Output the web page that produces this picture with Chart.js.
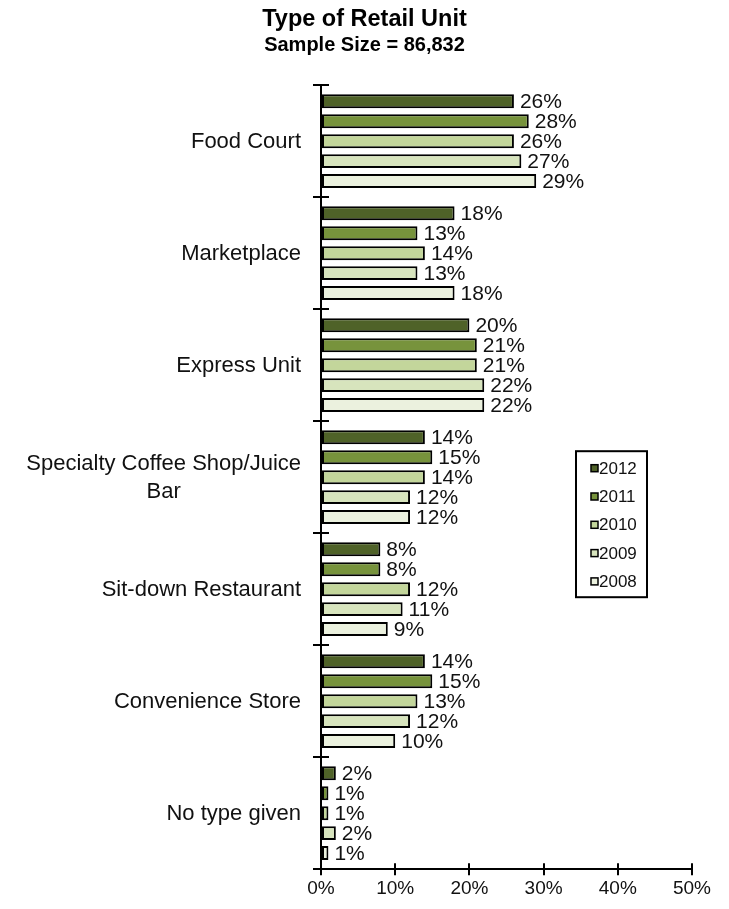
<!DOCTYPE html>
<html>
<head>
<meta charset="utf-8">
<title>Type of Retail Unit</title>
<script src="https://cdn.jsdelivr.net/npm/chart.js@4.4.1/dist/chart.umd.min.js"></script>
<style>
  html, body { margin: 0; padding: 0; background: #fff; }
  #wrap { width: 729px; height: 909px; }
</style>
</head>
<body>
<div id="wrap"><canvas id="retailChart"></canvas></div>
<script>
// Categories (the long one wraps onto two lines)
const categories = [
  'Food Court',
  'Marketplace',
  'Express Unit',
  ['Specialty Coffee Shop/Juice', 'Bar'],
  'Sit-down Restaurant',
  'Convenience Store',
  'No type given'
];

// Share of units per year, in percent
const years = ['2012', '2011', '2010', '2009', '2008'];
const values2012 = [26, 18, 20, 14, 8, 14, 2];
const values2011 = [28, 13, 21, 15, 8, 15, 1];
const values2010 = [26, 14, 21, 14, 12, 13, 1];
const values2009 = [27, 13, 22, 12, 11, 12, 2];
const values2008 = [29, 18, 22, 12, 9, 10, 1];
const xTicks = [0, 10, 20, 30, 40, 50];

const seriesValues = [values2012, values2011, values2010, values2009, values2008];
const seriesColors = ['#4f6228', '#77933c', '#c3d69b', '#d7e4bd', '#ebf1de'];

const FONT = '"Liberation Sans", Arial, Helvetica, sans-serif';

// Value labels, category labels, inner tick stubs and the boxed legend
const extrasPlugin = {
  id: 'extras',
  afterDatasetsDraw(chart) {
    const ctx = chart.ctx;
    const area = chart.chartArea;
    const xs = chart.scales.x;
    const ys = chart.scales.y;
    ctx.save();

    // value labels at the end of each bar
    ctx.font = '21px ' + FONT;
    ctx.fillStyle = '#111';
    ctx.textBaseline = 'middle';
    ctx.textAlign = 'left';
    chart.data.datasets.forEach((ds, i) => {
      chart.getDatasetMeta(i).data.forEach((bar, j) => {
        ctx.fillText(ds.data[j] + '%', bar.x + 6, bar.y + 1);
      });
    });

    // category labels, right aligned; wrapped lines centred on each other
    ctx.font = '22px ' + FONT;
    ctx.textAlign = 'center';
    const right = area.left - 20;
    const lineH = 28;
    chart.data.labels.forEach((lab, i) => {
      const lines = Array.isArray(lab) ? lab : [lab];
      const maxW = Math.max(...lines.map(l => ctx.measureText(l).width));
      const cy = ys.getPixelForValue(i);
      lines.forEach((l, k) => {
        ctx.fillText(l, right - maxW / 2, cy + (k - (lines.length - 1) / 2) * lineH + 1);
      });
    });

    // tick marks that cross the axis lines
    ctx.strokeStyle = '#000';
    ctx.lineWidth = 2;
    ctx.beginPath();
    for (let i = 0; i <= categories.length; i++) {
      const py = Math.round(ys.getPixelForValue(i - 0.5));
      ctx.moveTo(area.left, py);
      ctx.lineTo(area.left + 8, py);
    }
    xTicks.forEach(v => {
      const px = Math.round(xs.getPixelForValue(v));
      ctx.moveTo(px, area.bottom);
      ctx.lineTo(px, area.bottom - 6);
    });
    ctx.stroke();

    // legend box
    const lx = area.left + 255;
    const ly = area.top + 366;
    const lw = 71;
    const lh = 146;
    ctx.lineWidth = 2;
    ctx.strokeRect(lx, ly, lw, lh);
    ctx.font = '17px ' + FONT;
    ctx.textAlign = 'left';
    years.forEach((yr, i) => {
      const cy = ly + 17 + i * 28.3;
      ctx.fillStyle = seriesColors[i];
      ctx.fillRect(lx + 15, cy - 3.5, 7, 7);
      ctx.lineWidth = 1.5;
      ctx.strokeRect(lx + 15, cy - 3.5, 7, 7);
      ctx.fillStyle = '#111';
      ctx.fillText(yr, lx + 23, cy + 1);
    });

    ctx.restore();
  }
};

const datasets = years.map((yr, i) => ({
  label: yr,
  data: seriesValues[i],
  backgroundColor: seriesColors[i],
  borderColor: '#000',
  borderWidth: 2,
  borderSkipped: false,
  categoryPercentage: 0.89,
  barPercentage: 0.7
}));

new Chart(document.getElementById('retailChart'), {
  type: 'bar',
  data: { labels: categories, datasets: datasets },
  options: {
    indexAxis: 'y',
    responsive: true,
    maintainAspectRatio: false,
    animation: false,
    layout: { padding: { left: 37, right: 37, top: 0, bottom: 7 } },
    plugins: {
      legend: { display: false },
      tooltip: { enabled: false },
      title: {
        display: true,
        text: 'Type of Retail Unit',
        color: '#000',
        font: { family: FONT, size: 23.5, weight: 'bold' },
        padding: { top: 5, bottom: 0 }
      },
      subtitle: {
        display: true,
        text: 'Sample Size = 86,832',
        color: '#000',
        font: { family: FONT, size: 20, weight: 'bold' },
        padding: { top: 0, bottom: 28 }
      }
    },
    scales: {
      x: {
        min: 0,
        max: 50,
        afterBuildTicks: scale => { scale.ticks = xTicks.map(v => ({ value: v })); },
        ticks: {
          callback: v => v + '%',
          color: '#111',
          font: { family: FONT, size: 19 },
          padding: 2,
          maxRotation: 0
        },
        grid: { drawOnChartArea: false, tickLength: 6, lineWidth: 2, color: '#000' },
        border: { display: true, width: 2, color: '#000' }
      },
      y: {
        ticks: { display: false },
        grid: { drawOnChartArea: false, tickLength: 8, lineWidth: 2, color: '#000', offset: true },
        border: { display: true, width: 2, color: '#000' },
        afterFit: scale => { scale.width = 284; }
      }
    }
  },
  plugins: [extrasPlugin]
});
</script>
</body>
</html>
